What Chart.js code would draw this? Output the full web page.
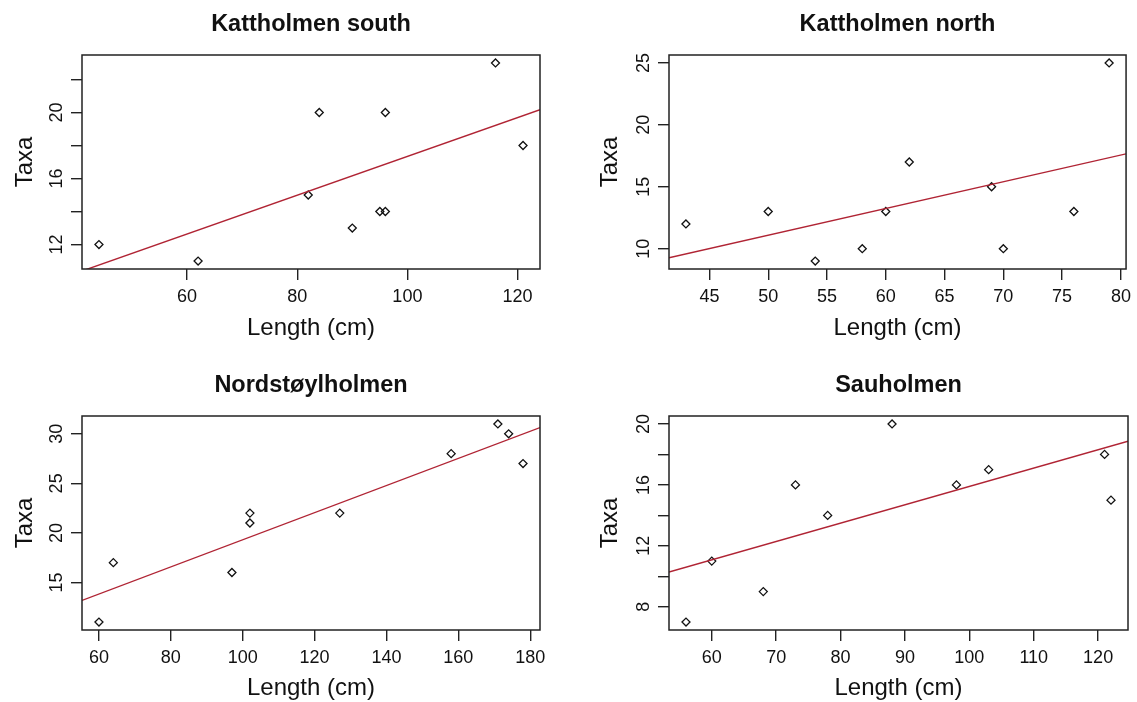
<!DOCTYPE html>
<html>
<head>
<meta charset="utf-8">
<title>Taxa vs. length</title>
<script src="https://cdn.jsdelivr.net/npm/chart.js@4.4.1/dist/chart.umd.min.js"></script>
<style>
  html, body { margin: 0; padding: 0; background: #ffffff; }
  #wrap { position: relative; width: 1137px; height: 702px; overflow: hidden; background: #ffffff; }
  #wrap canvas { position: absolute; }
</style>
</head>
<body>
<div id="wrap">
  <canvas id="panel0" width="568" height="351" style="left:0px;top:0px"></canvas>
  <canvas id="panel1" width="569" height="351" style="left:568px;top:0px"></canvas>
  <canvas id="panel2" width="568" height="351" style="left:0px;top:351px"></canvas>
  <canvas id="panel3" width="569" height="351" style="left:568px;top:351px"></canvas>
</div>
<script>
// ---- data: one pair of arrays per islet ----
const siteNames = ['Kattholmen south', 'Kattholmen north', 'Nordstøylholmen', 'Sauholmen'];

const lengthKattSouth = [44, 62, 82, 84, 90, 95, 96, 96, 116, 121];
const taxaKattSouth   = [12, 11, 15, 20, 13, 14, 14, 20, 23, 18];

const lengthKattNorth = [43, 50, 54, 58, 60, 62, 69, 70, 76, 79];
const taxaKattNorth   = [12, 13, 9, 10, 13, 17, 15, 10, 13, 25];

const lengthNordstoyl = [60, 64, 97, 102, 102, 127, 158, 171, 174, 178];
const taxaNordstoyl   = [11, 17, 16, 21, 22, 22, 28, 31, 30, 27];

const lengthSauholmen = [56, 60, 68, 73, 78, 88, 98, 103, 121, 122];
const taxaSauholmen   = [7, 11, 9, 16, 14, 20, 16, 17, 18, 15];

// fitted regression line (Taxa ~ Length) for each islet
const fitIntercept = [5.59, 0.29, 5.62, 3.85];
const fitSlope     = [0.1175, 0.2159, 0.1369, 0.1205];

// axis ticks
const xTickValues = [
  [60, 80, 100, 120],
  [45, 50, 55, 60, 65, 70, 75, 80],
  [60, 80, 100, 120, 140, 160, 180],
  [60, 70, 80, 90, 100, 110, 120]
];
const yTickValues = [
  [12, 14, 16, 18, 20, 22],
  [10, 15, 20, 25],
  [15, 20, 25, 30],
  [8, 10, 12, 14, 16, 18, 20]
];
const yTickLabels = [
  ['12', '', '16', '', '20', ''],
  ['10', '15', '20', '25'],
  ['15', '20', '25', '30'],
  ['8', '', '12', '', '16', '', '20']
];

const xAxisLabel = 'Length (cm)';
const yAxisLabel = 'Taxa';

// ---- layout of each panel inside its canvas (pixels) ----
const panelLayout = [
  { w: 568, h: 351, left: 82,  right: 540, top: 55, bottom: 269, titleBase: 31, yTitleMid: 25.7, xTitleMid: 328.4 },
  { w: 569, h: 351, left: 101, right: 560, top: 55, bottom: 269, titleBase: 31, yTitleMid: 42.0, xTitleMid: 328.4 },
  { w: 568, h: 351, left: 82,  right: 540, top: 65, bottom: 279, titleBase: 41, yTitleMid: 25.7, xTitleMid: 337.4 },
  { w: 569, h: 351, left: 101, right: 560, top: 65, bottom: 279, titleBase: 41, yTitleMid: 42.0, xTitleMid: 337.4 }
];

const FONT = '"Liberation Sans", Arial, Helvetica, sans-serif';
const INK = '#111111';
const AXIS_INK = '#222222';
const FIT_RED = 'rgb(176, 36, 52)';
const TICK_LEN = 11;

// axis limits padded by 4% of the data range on each side
function paddedRange(values) {
  const lo = Math.min(...values), hi = Math.max(...values);
  const pad = (hi - lo) * 0.04;
  return [lo - pad, hi + pad];
}

// closed frame around the plotting region
const frameBox = {
  id: 'frameBox',
  afterDatasetsDraw(chart) {
    const { ctx, chartArea: a } = chart;
    ctx.save();
    ctx.strokeStyle = AXIS_INK;
    ctx.lineWidth = 1.5;
    ctx.strokeRect(a.left, a.top, a.right - a.left, a.bottom - a.top);
    ctx.restore();
  }
};

// bold heading centred over the plotting region
const panelHeading = {
  id: 'panelHeading',
  afterDraw(chart, args, opts) {
    const { ctx, chartArea: a } = chart;
    ctx.save();
    ctx.font = 'bold 23.5px ' + FONT;
    ctx.fillStyle = INK;
    ctx.textAlign = 'center';
    ctx.textBaseline = 'alphabetic';
    ctx.fillText(opts.text, (a.left + a.right) / 2, opts.baseline);
    ctx.restore();
  }
};

function drawPanel(i, lengths, taxa) {
  const g = panelLayout[i];
  const xr = paddedRange(lengths);
  const yr = paddedRange(taxa);
  const points = lengths.map((x, k) => ({ x: x, y: taxa[k] }));
  const fitLine = xr.map(x => ({ x: x, y: fitIntercept[i] + fitSlope[i] * x }));

  const tickFont = { family: FONT, size: 18, lineHeight: 1.2 };
  const titleFont = { family: FONT, size: 24, lineHeight: 1.2 };
  const gridOpts = {
    display: true, drawOnChartArea: false, drawTicks: true,
    tickLength: TICK_LEN, color: AXIS_INK, tickColor: AXIS_INK, lineWidth: 1.4, tickWidth: 1.4
  };

  new Chart(document.getElementById('panel' + i), {
    type: 'scatter',
    data: {
      datasets: [
        {
          label: 'fit',
          data: fitLine,
          showLine: true,
          borderColor: FIT_RED,
          borderWidth: 1.4,
          pointRadius: 0,
          fill: false
        },
        {
          label: siteNames[i],
          data: points,
          showLine: false,
          pointStyle: 'rectRot',
          pointRadius: 4,
          pointBorderWidth: 1.3,
          borderColor: INK,
          backgroundColor: 'rgba(0,0,0,0)'
        }
      ]
    },
    options: {
      responsive: false,
      animation: false,
      events: [],
      devicePixelRatio: 1,
      layout: {
        autoPadding: false,
        padding: { left: 0, top: g.top, right: g.w - g.right, bottom: 0 }
      },
      plugins: {
        legend: { display: false },
        tooltip: { enabled: false },
        title: { display: false },
        panelHeading: { text: siteNames[i], baseline: g.titleBase }
      },
      scales: {
        x: {
          type: 'linear',
          position: 'bottom',
          min: xr[0],
          max: xr[1],
          afterBuildTicks: s => { s.ticks = xTickValues[i].map(v => ({ value: v })); },
          afterFit: s => { s.height = g.h - g.bottom; },
          grid: gridOpts,
          border: { display: false },
          ticks: {
            font: tickFont, color: INK, padding: 6,
            autoSkip: false, minRotation: 0, maxRotation: 0,
            callback: v => String(v)
          },
          title: {
            display: true, text: xAxisLabel, color: INK, font: titleFont,
            padding: { top: 0, bottom: g.h - g.xTitleMid - 14.4 }
          }
        },
        y: {
          type: 'linear',
          position: 'left',
          min: yr[0],
          max: yr[1],
          afterBuildTicks: s => { s.ticks = yTickValues[i].map(v => ({ value: v })); },
          afterFit: s => { s.width = g.left; },
          grid: gridOpts,
          border: { display: false },
          ticks: {
            font: tickFont, color: INK, padding: 3.5,
            autoSkip: false, minRotation: 90, maxRotation: 90,
            crossAlign: 'center',
            callback: (v, idx) => yTickLabels[i][idx]
          },
          title: {
            display: true, text: yAxisLabel, color: INK, font: titleFont,
            padding: { top: g.yTitleMid - 14.4, bottom: 0 }
          }
        }
      }
    },
    plugins: [frameBox, panelHeading]
  });
}

drawPanel(0, lengthKattSouth, taxaKattSouth);
drawPanel(1, lengthKattNorth, taxaKattNorth);
drawPanel(2, lengthNordstoyl, taxaNordstoyl);
drawPanel(3, lengthSauholmen, taxaSauholmen);
</script>
</body>
</html>
